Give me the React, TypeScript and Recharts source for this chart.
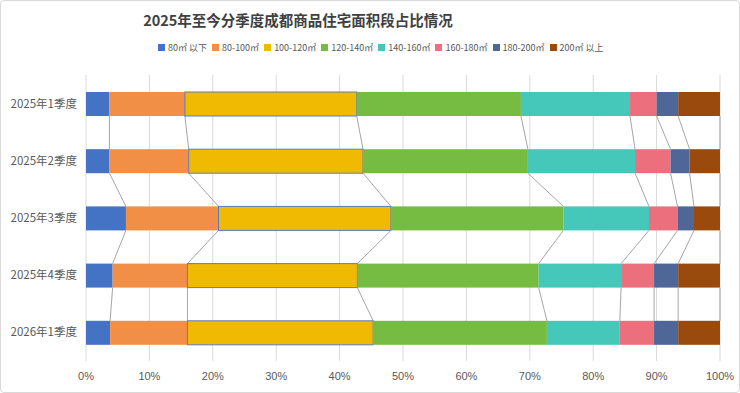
import { Bar, BarChart, CartesianGrid, XAxis, YAxis } from 'recharts'

const CATEGORIES = ['2025年1季度', '2025年2季度', '2025年3季度', '2025年4季度', '2026年1季度']
const SERIES_NAMES = ['80㎡ 以下', '80-100㎡', '100-120㎡', '120-140㎡', '140-160㎡', '160-180㎡', '180-200㎡', '200㎡ 以上']

const below80 = [3.7, 3.7, 6.3, 4.2, 3.8]
const s80to100 = [11.9, 12.5, 14.6, 11.8, 12.2]
const s100to120 = [27.1, 27.5, 27.2, 26.8, 29.3]
const s120to140 = [25.9, 26.0, 27.2, 28.6, 27.4]
const s140to160 = [17.2, 16.9, 13.5, 13.0, 11.5]
const s160to180 = [4.2, 5.6, 4.5, 5.2, 5.4]
const s180to200 = [3.4, 3.0, 2.6, 3.8, 3.8]
const above200 = [6.6, 4.8, 4.1, 6.6, 6.6]

const X_TICKS = [0, 10, 20, 30, 40, 50, 60, 70, 80, 90, 100]

const SERIES = [below80, s80to100, s100to120, s120to140, s140to160, s160to180, s180to200, above200]
const COLORS = ['#4472C4', '#F18F47', '#F1BA02', '#76BC43', '#45C7BA', '#EC6F7E', '#4E6797', '#9B4A0E']

const W = 740
const H = 393
const MARGIN = { top: 75, right: 20, bottom: 12, left: 0 }
const X_AXIS_H = 20
const PLOT_H = H - MARGIN.top - MARGIN.bottom - X_AXIS_H
const STEP = PLOT_H / CATEGORIES.length
const BAR_SIZE = 24

const chartData = CATEGORIES.map((name, row) => {
  const item: Record<string, string | number> = { name }
  SERIES.forEach((s, k) => {
    item['s' + k] = s[row]
  })
  return item
})

const cumBefore = (row: number, k: number) => SERIES.slice(0, k).reduce((a, s) => a + s[row], 0)

// bar segment plus the grey series line down to the same segment in the next row
function Segment(props: any) {
  const { x, y, width, height, fill, index, k } = props
  const value = SERIES[k][index]
  const ppu = value ? width / value : 0
  const originX = x - cumBefore(index, k) * ppu
  const endX = x + width
  let line = null
  if (index < CATEGORIES.length - 1) {
    const nextEnd = originX + (cumBefore(index + 1, k) + SERIES[k][index + 1]) * ppu
    line = <line x1={endX} y1={y + height} x2={nextEnd} y2={y + STEP} stroke="#A6A6A6" strokeWidth={1} />
  }
  return (
    <g>
      <rect
        x={x}
        y={y}
        width={width}
        height={height}
        fill={fill}
        stroke={k === 2 ? '#5B7DBE' : 'none'}
        strokeWidth={k === 2 ? 1 : 0}
      />
      {line}
    </g>
  )
}

export default function App() {
  return (
    <div
      style={{
        position: 'absolute',
        left: 0,
        top: 0,
        width: W,
        height: H,
        background: '#fff',
        fontFamily: '"Noto Sans CJK SC", sans-serif',
      }}
    >
      <div
        style={{
          position: 'absolute',
          left: 0,
          top: 0,
          width: W - 2,
          height: H - 2,
          border: '1px solid #D9D9D9',
          borderRadius: 4,
        }}
      />
      <div
        style={{
          position: 'absolute',
          top: 9,
          left: 298,
          transform: 'translateX(-50%)',
          fontSize: 14.5,
          fontWeight: 700,
          color: '#404040',
          whiteSpace: 'nowrap',
        }}
      >
        2025年至今分季度成都商品住宅面积段占比情况
      </div>
      <div
        style={{
          position: 'absolute',
          top: 41,
          left: 158,
          display: 'flex',
          gap: 5,
          fontSize: 9,
          color: '#595959',
          whiteSpace: 'nowrap',
        }}
      >
        {SERIES_NAMES.map((n, i) => (
          <div key={n} style={{ display: 'flex', alignItems: 'center', gap: 3 }}>
            <span style={{ width: 7, height: 7, background: COLORS[i], display: 'inline-block' }} />
            <span>{n}</span>
          </div>
        ))}
      </div>
      <BarChart width={W} height={H} data={chartData} layout="vertical" margin={MARGIN} barSize={BAR_SIZE}>
        <CartesianGrid horizontal={false} stroke="#D9D9D9" />
        <XAxis
          type="number"
          domain={[0, 100]}
          ticks={X_TICKS}
          tickFormatter={(v) => v + '%'}
          axisLine={false}
          tickLine={false}
          height={X_AXIS_H}
          tickMargin={5}
          tick={{ fill: '#595959', fontSize: 11, fontFamily: '"Liberation Sans", sans-serif' }}
          interval={0}
        />
        <YAxis
          type="category"
          dataKey="name"
          width={86}
          axisLine={false}
          tickLine={false}
          tick={{ fill: '#595959', fontSize: 11.5, fontFamily: '"Noto Sans CJK SC", sans-serif' }}
          tickMargin={3}
        />
        {SERIES.map((_, k) => (
          <Bar
            key={k}
            dataKey={'s' + k}
            stackId="a"
            fill={COLORS[k]}
            isAnimationActive={false}
            shape={(p: any) => <Segment {...p} k={k} />}
          />
        ))}
      </BarChart>
    </div>
  )
}
